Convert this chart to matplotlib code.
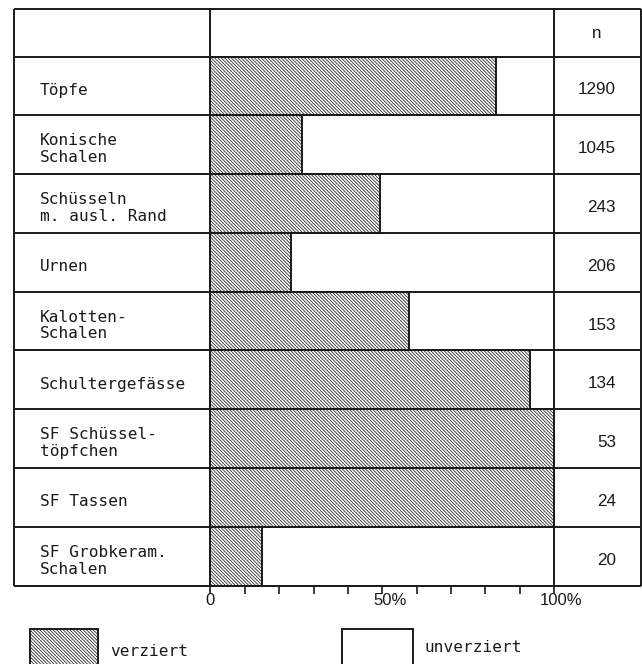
import matplotlib
matplotlib.use("Agg")
import matplotlib.pyplot as plt
from matplotlib.patches import Rectangle
from matplotlib import font_manager

# --- data -------------------------------------------------------------
categories = [
    "Töpfe",
    "Konische\nSchalen",
    "Schüsseln\nm. ausl. Rand",
    "Urnen",
    "Kalotten-\nSchalen",
    "Schultergefässe",
    "SF Schüssel-\ntöpfchen",
    "SF Tassen",
    "SF Grobkeram.\nSchalen",
]
verziert_pct = [83, 26.7, 49.4, 23.5, 57.8, 93, 100, 100, 15]
n_values = [1290, 1045, 243, 206, 153, 134, 53, 24, 20]
tick_values = [0, 50, 100]
legend_labels = ["verziert", "unverziert"]

# --- fonts --------------------------------------------------------------
names = {f.name for f in font_manager.fontManager.ttflist}
MONO = "DejaVu Sans Mono"
NUM = ["Liberation Sans Narrow", "Liberation Sans"] if "Liberation Sans Narrow" in names else ["Liberation Sans"]
NUM_SIZE = 14.5 if "Liberation Sans Narrow" in names else 12.3

plt.rcParams["hatch.linewidth"] = 0.55

W, H = 642, 664
fig = plt.figure(figsize=(W / 100, H / 100), dpi=100)
ax = fig.add_axes([0, 0, 1, 1])
ax.set_axis_off()

# layout helpers: pixel positions -> data units (x in %, y in rows)
X0, XSCALE = 210.5, 3.435
Y0, YSCALE = 56.5, (585.5 - 56.5) / 9


def px_x(p):
    return (p - X0) / XSCALE


def px_y(p):
    return (p - Y0) / YSCALE


ax.set_xlim(px_x(0), px_x(W))
ax.set_ylim(px_y(H), px_y(0))

LW = 1.4
INK = "#1a1a1a"
HATCH = "\\" * 10

rows = list(range(len(categories)))
centers = [r + 0.5 for r in rows]

# hatched share of each row
ax.barh(centers, verziert_pct, height=1.0, left=0, color="white",
        edgecolor=INK, hatch=HATCH, linewidth=LW, zorder=2)

# table grid
left, right = px_x(14), px_x(641)
top = px_y(8.5)
ax.hlines([top] + [r for r in range(len(categories) + 1)], left, right,
          colors=INK, linewidth=LW, zorder=3)
ax.vlines([left, 0, 100, right], top, len(categories),
          colors=INK, linewidth=LW, zorder=3)

# ticks below the axis
tick_len = 8 / YSCALE
ax.vlines(list(range(0, 101, 10)), len(categories), len(categories) + tick_len,
          colors=INK, linewidth=1.2, zorder=3)

# tick labels: numeral centred on the tick, % sign trailing
TICK_SIZE = 12
for t in tick_values:
    num = f"{t}"
    label = num if t == 0 else num + "%"
    shift = -len(num) * 0.556 * TICK_SIZE / 2
    ax.annotate(label, (t, len(categories)), xytext=(shift, -11),
                textcoords="offset points", ha="left", va="center",
                fontsize=TICK_SIZE, family=["Liberation Sans"], color=INK)

# row labels and counts
LABEL_SIZE = 11.6
dy = 4.5 / YSCALE
for c, lab, n in zip(centers, categories, n_values):
    ax.text(px_x(40), c + dy, lab, ha="left", va="center", fontsize=LABEL_SIZE,
            family=MONO, color=INK, linespacing=1.15)
    ax.text(px_x(616), c + 4 / YSCALE, f"{n}", ha="right", va="center",
            fontsize=NUM_SIZE, family=NUM, color=INK)

ax.text(px_x(597), px_y(33), "n", ha="center", va="center",
        fontsize=NUM_SIZE, family=NUM, color=INK)

# legend
box_top, box_bot = px_y(628.5), px_y(690)
ax.add_patch(Rectangle((px_x(30.5), box_top), px_x(98) - px_x(30.5),
                       box_bot - box_top, facecolor="white", edgecolor=INK,
                       hatch=HATCH, linewidth=LW))
ax.text(px_x(110), px_y(651), legend_labels[0], ha="left", va="center",
        fontsize=LABEL_SIZE, family=MONO, color=INK)
ax.add_patch(Rectangle((px_x(342), box_top), px_x(413) - px_x(342),
                       box_bot - box_top, facecolor="white", edgecolor=INK,
                       linewidth=LW))
ax.text(px_x(424), px_y(648), legend_labels[1], ha="left", va="center",
        fontsize=LABEL_SIZE, family=MONO, color=INK)

fig.savefig("out.png", dpi=100)
